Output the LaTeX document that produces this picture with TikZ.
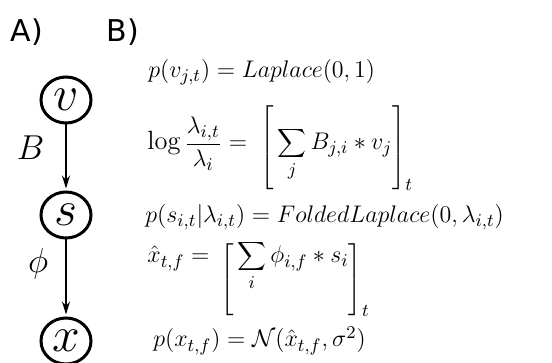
\documentclass[tikz,border=0pt]{standalone}
\usepackage{fontspec}
\usetikzlibrary{arrows.meta,positioning,shapes.geometric}
\newfontfamily\panelfont{DejaVu Sans}
\delimiterfactor=1000
\delimitershortfall=0pt
% bracket of fixed size, lowered by #1
\newcommand{\sizedbracket}[3]{\lower#1\hbox{\nulldelimiterspace=0pt$\left#2\vrule height#3 depth#3 width0pt\right.$}}
\tikzset{
  varnode/.style={ellipse,draw=black,line width=1.5pt,inner sep=0pt,
    minimum width=25pt,minimum height=23pt,font=\fontsize{24}{28}\selectfont},
  link/.style={-{Stealth[length=6.5pt,width=4pt]},line width=0.75pt,shorten >=1pt},
  edgelabel/.style={font=\fontsize{16}{19}\selectfont,inner sep=0pt},
  panel/.style={font=\panelfont\fontsize{15}{18}\selectfont,inner sep=0pt},
  formula/.style={anchor=base west,inner sep=0pt,font=\fontsize{13.2}{16}\selectfont}
}
\begin{document}
\begin{tikzpicture}[x=0.5pt,y=-0.5pt]
  \useasboundingbox (0,0) rectangle (552,363);
  % panel letters
  \node[panel] (pa) at (27,32) {A)};
  \node[panel] (pb) at (123,32) {B)};
  % graphical model
  \node[varnode] (v) at (66,100) {$v$};
  \node[varnode] (s) at (66,215) {$s$};
  \node[varnode] (x) at (66,341) {$x$};
  \draw[link] (v) -- node[pos=0.35,left=10.5pt,edgelabel] {$B$} (s);
  \draw[link] (s) -- node[pos=0.31,left=8.5pt,edgelabel] {$\phi$} (x);
  % generative model
  \node[formula] (eqv) at (148,78) {$p(v_{j,t}) = Laplace(0,1)$};
  \node[formula] (eqlam) at (147,150)
    {$\displaystyle \log\frac{\lambda_{i,t}}{\lambda_i} = \;\sizedbracket{2pt}{[}{18pt}\sum_j B_{j,i} * v_j\sizedbracket{2pt}{]}{18pt}_t$};
  \node[formula] (eqs) at (145,223) {$p(s_{i,t}|\lambda_{i,t}) = FoldedLaplace(0,\lambda_{i,t})$};
  \node[formula] (eqxhat) at (147,263)
    {$\displaystyle \hat{x}_{t,f} = \,\sizedbracket{11.5pt}{[}{15pt}\sum_i \phi_{i,f} * s_i\sizedbracket{11.5pt}{]}{15pt}_t$};
  \node[formula] (eqx) at (153,347) {$p(x_{t,f}) = \mathcal{N}(\hat{x}_{t,f},\sigma^2)$};
\end{tikzpicture}
\end{document}
